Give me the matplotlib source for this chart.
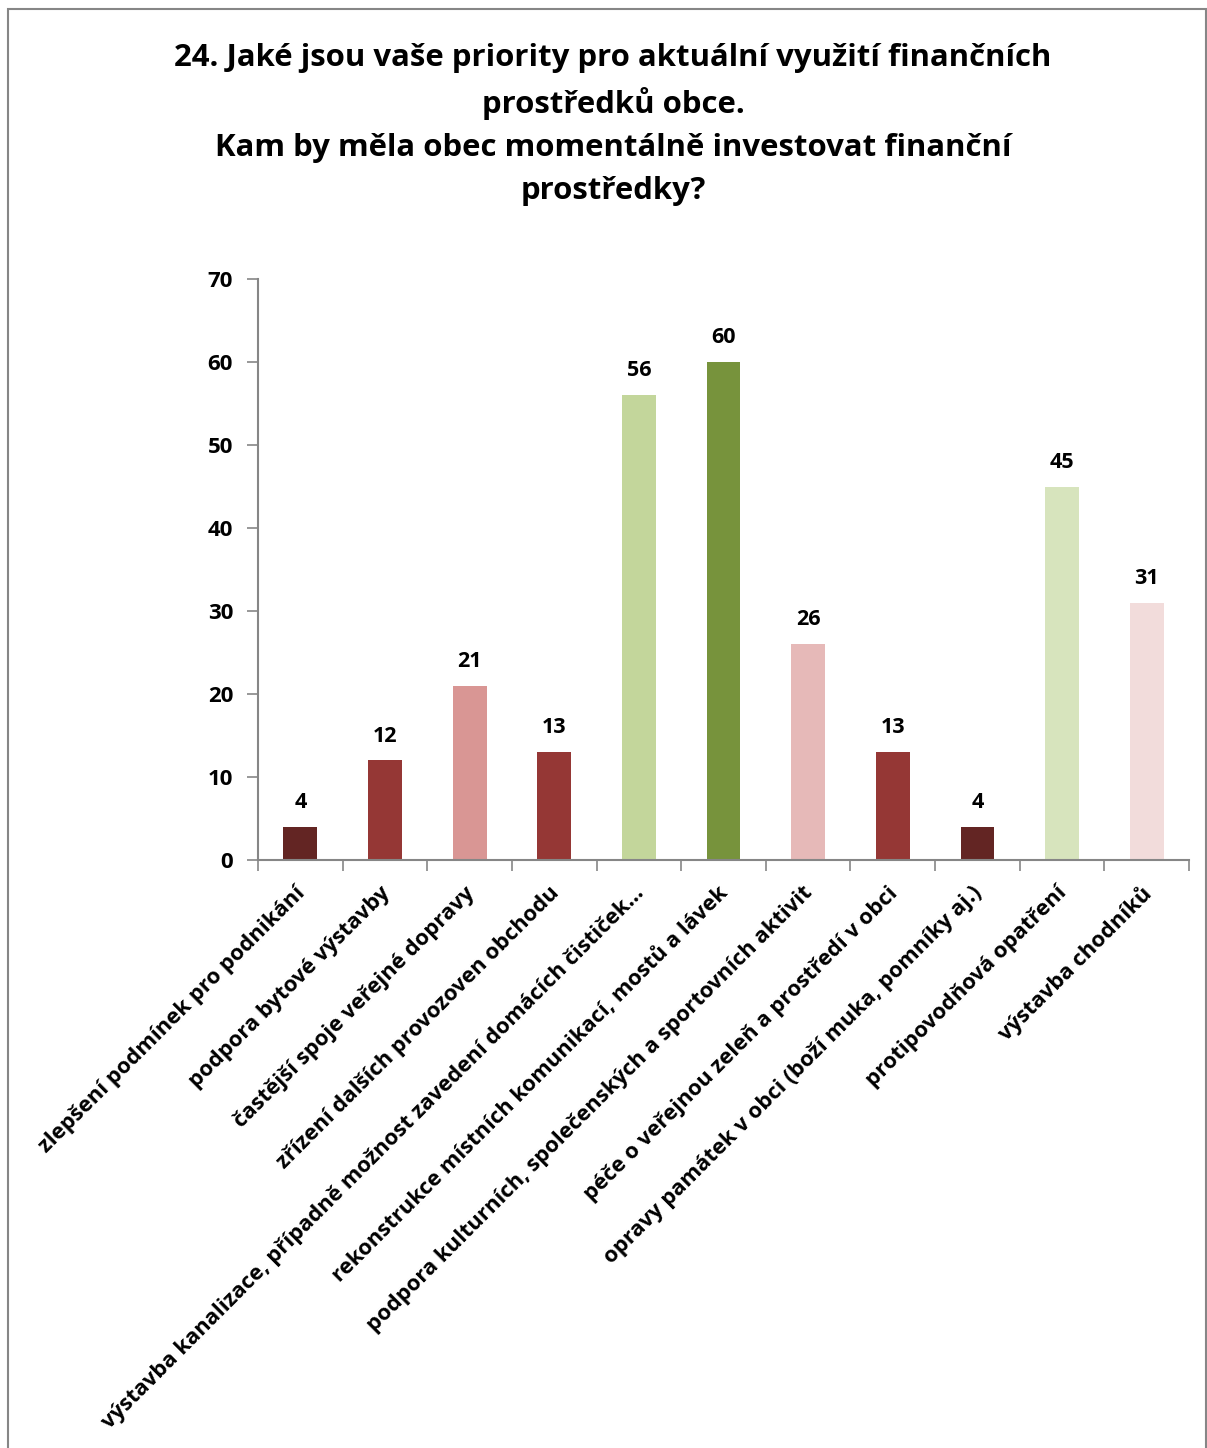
import matplotlib.pyplot as plt
from matplotlib.patches import Rectangle

# kategorie a počty odpovědí
kategorie = [
    "zlepšení podmínek pro podnikání",
    "podpora bytové výstavby",
    "častější spoje veřejné dopravy",
    "zřízení dalších provozoven obchodu",
    "výstavba kanalizace, případně možnost zavedení domácích čističek…",
    "rekonstrukce místních komunikací, mostů a lávek",
    "podpora kulturních, společenských a sportovních aktivit",
    "péče o veřejnou zeleň a prostředí v obci",
    "opravy památek v obci (boží muka, pomníky aj.)",
    "protipovodňová opatření",
    "výstavba chodníků",
]
pocty = [4, 12, 21, 13, 56, 60, 26, 13, 4, 45, 31]
barvy = ["#632523", "#953735", "#D99694", "#953735", "#C3D69B", "#77933C",
         "#E6B9B8", "#953735", "#632523", "#D7E4BD", "#F2DCDB"]

nadpis = ("24. Jaké jsou vaše priority pro aktuální využití finančních\n"
          "prostředků obce.\n"
          "Kam by měla obec momentálně investovat finanční\n"
          "prostředky?")

plt.rcParams['font.family'] = ['Open Sans', 'DejaVu Sans']
plt.rcParams['font.weight'] = 'bold'

fig = plt.figure(figsize=(12.07, 14.48), dpi=100)
ax = fig.add_axes([0.2138, 0.406, 0.7713, 0.4013])

x = list(range(len(kategorie)))
ax.bar(x, pocty, width=0.4, color=barvy, zorder=2)

for xi, v in zip(x, pocty):
    ax.annotate(str(v), (xi, v), xytext=(0, 10), textcoords='offset points',
                ha='center', va='bottom', fontsize=15.5, fontweight='bold')

ax.set_xlim(-0.5, len(kategorie) - 0.5)
ax.set_ylim(0, 70)
ax.set_yticks(range(0, 71, 10))

# dílky osy x mezi kategoriemi
ax.set_xticks([i - 0.5 for i in range(len(kategorie) + 1)])
ax.set_xticklabels([])
ax.tick_params(axis='x', length=8, color='#868686', width=1.2)
ax.tick_params(axis='y', length=8, color='#868686', width=1.2, labelsize=16, pad=10)

for xi, lab in zip(x, kategorie):
    ax.text(xi + 0.02, -3.6, lab, rotation=45, rotation_mode='anchor',
            ha='right', va='center', fontsize=15.8, fontweight='bold')

for s in ['top', 'right']:
    ax.spines[s].set_visible(False)
for s in ['left', 'bottom']:
    ax.spines[s].set_color('#868686')
    ax.spines[s].set_linewidth(1.5)

fig.text(0.508, 0.9705, nadpis, ha='center', va='top', fontsize=22.4,
         fontweight='bold', linespacing=1.56)

# rámeček kolem celého grafu
fig.patches.append(Rectangle((0.007, -0.01), 0.992, 1.004, transform=fig.transFigure,
                             fill=False, edgecolor='#868686', linewidth=1.5))

fig.savefig('out.png', dpi=100)
